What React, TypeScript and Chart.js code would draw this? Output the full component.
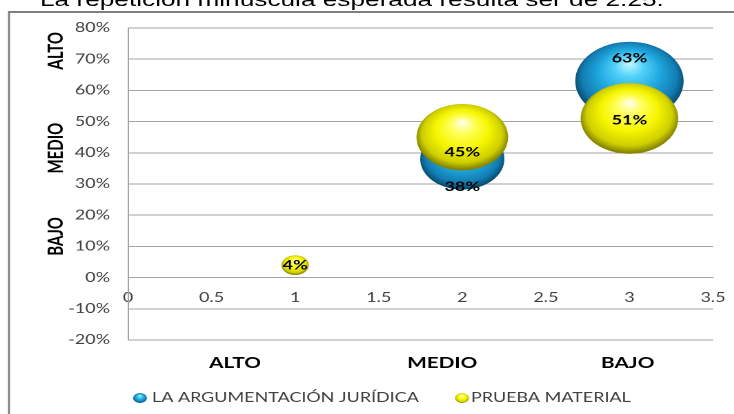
import React, { useEffect, useRef } from 'react';
import { Chart, registerables } from 'chart.js';

Chart.register(...registerables);

// ---------- data ----------
const introText = 'La repetición minúscula esperada resulta ser de 2.25.';
const levels = ['ALTO', 'MEDIO', 'BAJO'];
const levelX = [1, 2, 3];
const seriesNames = ['LA ARGUMENTACIÓN JURÍDICA', 'PRUEBA MATERIAL'];
const argumentacionValues: (number | null)[] = [null, 38, 63];
const argumentacionSizes: (number | null)[] = [null, 38, 63];
const pruebaValues: (number | null)[] = [4, 45, 51];
const pruebaSizes: (number | null)[] = [4, 45, 51];
const xMin = 0;
const xMax = 3.5;
const xStep = 0.5;
const yMin = -20;
const yMax = 80;
const yStep = 10;

// ---------- style ----------
const STRETCH = 1.38;
const W = 532;
const H = 414;
const R_SCALE = 4.95;
const GRID = '#a3a3a3';
const TEXT = '#404040';
const FONT = "Lato, 'Open Sans', sans-serif";
const BLUE_STOPS: [number, string][] = [
  [0, '#b4f3ff'],
  [0.22, '#52d2fa'],
  [0.55, '#1ea6de'],
  [0.85, '#137db2'],
  [1, '#094e72'],
];
const YELLOW_STOPS: [number, string][] = [
  [0, '#ffffd8'],
  [0.22, '#ffff5a'],
  [0.55, '#f6f600'],
  [0.85, '#cfcf00'],
  [1, '#858500'],
];
const labelDy = [
  [0, 27.7, -22.7],
  [0, 15, 2],
];
const sideLabelY = [72.7, 41.5, 13.2];
const bottomLabelX = [0.64, 1.88, 2.99];

function makePoints(values: (number | null)[], sizes: (number | null)[]) {
  const pts: any[] = [];
  levelX.forEach((x, i) => {
    const v = values[i];
    const s = sizes[i];
    if (v == null || s == null) return;
    pts.push({ x, y: v, r: R_SCALE * Math.sqrt(s), idx: i });
  });
  return pts;
}

function sphereGradient(ctx: CanvasRenderingContext2D, x: number, y: number, r: number, stops: [number, string][]) {
  const g = ctx.createRadialGradient(x, y - r * 0.45, r * 0.05, x, y - r * 0.05, r * 1.02);
  stops.forEach(([o, c]) => g.addColorStop(o, c));
  return g;
}

function sphereFill(stops: [number, string][]) {
  return (c: any) => {
    const raw = c.raw;
    if (!raw || c.type !== 'data') return stops[2][1];
    const chart = c.chart;
    const xs = chart.scales && chart.scales.x;
    const ys = chart.scales && chart.scales.y;
    if (!xs || !ys) return stops[2][1];
    const x = xs.getPixelForValue(raw.x);
    const y = ys.getPixelForValue(raw.y);
    const r = raw.r;
    if (!isFinite(x) || !isFinite(y) || !isFinite(r) || r <= 0) return stops[2][1];
    return sphereGradient(chart.ctx, x, y, r, stops);
  };
}

const decorPlugin = {
  id: 'decor',
  beforeDraw(chart: any) {
    const ctx = chart.ctx as CanvasRenderingContext2D;
    ctx.save();
    ctx.strokeStyle = '#7f7f7f';
    ctx.lineWidth = 2;
    ctx.beginPath();
    ctx.moveTo(9 / STRETCH, 12);
    ctx.lineTo(W, 12);
    ctx.stroke();
    ctx.lineWidth = 2 / STRETCH;
    ctx.beginPath();
    ctx.moveTo(9 / STRETCH, 11);
    ctx.lineTo(9 / STRETCH, H);
    ctx.stroke();
    ctx.restore();
  },
  afterDatasetsDraw(chart: any) {
    const ctx = chart.ctx as CanvasRenderingContext2D;
    ctx.save();
    ctx.fillStyle = '#000';
    ctx.font = `bold 13px ${FONT}`;
    ctx.textAlign = 'center';
    ctx.textBaseline = 'middle';
    chart.data.datasets.forEach((ds: any, di: number) => {
      const meta = chart.getDatasetMeta(di);
      meta.data.forEach((el: any, j: number) => {
        const raw = ds.data[j];
        ctx.fillText(`${raw.y}%`, el.x, el.y + labelDy[di][raw.idx]);
      });
    });
    ctx.restore();
  },
  afterDraw(chart: any) {
    const ctx = chart.ctx as CanvasRenderingContext2D;
    const xs = chart.scales.x;
    const ys = chart.scales.y;
    ctx.save();
    ctx.fillStyle = '#000';
    ctx.font = `bold 15px ${FONT}`;
    ctx.textAlign = 'center';
    ctx.textBaseline = 'middle';
    levels.forEach((lab, i) => {
      ctx.save();
      ctx.translate(56 / STRETCH, ys.getPixelForValue(sideLabelY[i]));
      ctx.rotate(-Math.PI / 2);
      ctx.fillText(lab, 0, 0);
      ctx.restore();
    });
    levels.forEach((lab, i) => {
      ctx.fillText(lab, xs.getPixelForValue(bottomLabelX[i]), chart.chartArea.bottom + 23);
    });
    const ly = 398;
    const items = [
      { name: seriesNames[0], stops: BLUE_STOPS, dot: 140 / STRETCH, text: 152 / STRETCH },
      { name: seriesNames[1], stops: YELLOW_STOPS, dot: 462 / STRETCH, text: 471 / STRETCH },
    ];
    ctx.font = `13px ${FONT}`;
    ctx.textAlign = 'left';
    items.forEach((it) => {
      ctx.beginPath();
      ctx.arc(it.dot, ly, 5, 0, Math.PI * 2);
      ctx.fillStyle = sphereGradient(ctx, it.dot, ly, 5, it.stops);
      ctx.fill();
      ctx.fillStyle = TEXT;
      ctx.fillText(it.name, it.text, ly);
    });
    ctx.restore();
  },
};

export default function App() {
  const ref = useRef<HTMLCanvasElement>(null);
  useEffect(() => {
    const canvas = ref.current;
    if (!canvas) return;
    let alive = true;
    const chart = new Chart(canvas, {
      type: 'bubble',
      data: {
        datasets: [
          {
            label: seriesNames[0],
            data: makePoints(argumentacionValues, argumentacionSizes),
            backgroundColor: sphereFill(BLUE_STOPS),
            borderWidth: 0,
            order: 1,
          },
          {
            label: seriesNames[1],
            data: makePoints(pruebaValues, pruebaSizes),
            backgroundColor: sphereFill(YELLOW_STOPS),
            borderWidth: 0,
            order: 0,
          },
        ] as any,
      },
      options: {
        responsive: false,
        animation: false,
        devicePixelRatio: 2,
        events: [],
        layout: { autoPadding: false, padding: { left: 0, top: 28, right: W - 713 / STRETCH, bottom: H - 340 } },
        plugins: { legend: { display: false }, tooltip: { enabled: false } },
        scales: {
          x: {
            type: 'linear',
            position: { y: 0 } as any,
            min: xMin,
            max: xMax,
            ticks: {
              stepSize: xStep,
              padding: 12.6,
              color: TEXT,
              font: { family: FONT, size: 13 },
              callback: (v: any) => String(Math.round(Number(v) * 10) / 10),
            },
            grid: { display: false, drawTicks: false },
            border: { display: true, color: GRID },
            afterFit: (s: any) => {
              s.paddingLeft = 0;
              s.paddingRight = 0;
            },
          },
          y: {
            type: 'linear',
            min: yMin,
            max: yMax,
            ticks: {
              stepSize: yStep,
              padding: 13,
              color: TEXT,
              font: { family: FONT, size: 13 },
              callback: (v: any) => `${Math.round(Number(v))}%`,
            },
            grid: { color: GRID, drawTicks: false },
            border: { display: true, color: GRID },
            afterFit: (s: any) => {
              s.width = 128 / STRETCH;
              s.paddingTop = 0;
              s.paddingBottom = 0;
            },
          },
        },
      } as any,
      plugins: [decorPlugin],
    });
    const fonts = (document as any).fonts;
    if (fonts && fonts.load) {
      Promise.all([fonts.load(`13px Lato`), fonts.load(`bold 15px Lato`)])
        .then(() => {
          if (alive) chart.update();
        })
        .catch(() => {});
    }
    return () => {
      alive = false;
      chart.destroy();
    };
  }, []);

  return (
    <div
      style={{
        position: 'fixed',
        left: 0,
        top: 0,
        width: W,
        height: H,
        overflow: 'hidden',
        background: '#fff',
        transform: `scaleX(${STRETCH})`,
        transformOrigin: '0 0',
      }}
    >
      <canvas ref={ref} width={W} height={H} style={{ position: 'absolute', left: 0, top: 0, width: W, height: H }} />
      <div
        style={{
          position: 'absolute',
          left: 29,
          top: -10,
          fontFamily: "'Liberation Sans', Arial, sans-serif",
          fontSize: 19,
          lineHeight: '19px',
          whiteSpace: 'nowrap',
          color: '#000',
        }}
      >
        {introText}
      </div>
    </div>
  );
}
